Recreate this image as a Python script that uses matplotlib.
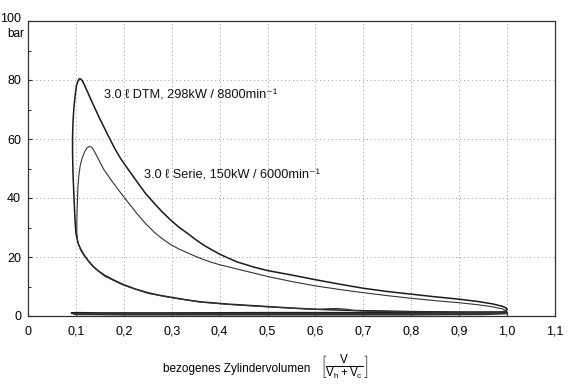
import numpy as np
import matplotlib
matplotlib.use("Agg")
import matplotlib.pyplot as plt
from matplotlib.ticker import MultipleLocator
from matplotlib.transforms import ScaledTranslation

plt.rcParams['font.family'] = ['Liberation Sans', 'DejaVu Sans']
plt.rcParams['mathtext.fontset'] = 'custom'
plt.rcParams['mathtext.rm'] = 'Liberation Sans'
plt.rcParams['mathtext.it'] = 'Liberation Sans'

# axis ticks
x_ticks = [0, 0.1, 0.2, 0.3, 0.4, 0.5, 0.6, 0.7, 0.8, 0.9, 1.0, 1.1]
x_labels = ["0", "0,1", "0,2", "0,3", "0,4", "0,5", "0,6", "0,7", "0,8", "0,9", "1,0", "1,1"]
y_ticks = [0, 20, 40, 60, 80, 100]
y_labels = ["0", "20", "40", "60", "80", "100"]

# shared-ish compression line (BDC -> near TDC)
comp_V = [1.0, 0.95, 0.9, 0.85, 0.8, 0.75, 0.7, 0.65, 0.6, 0.55, 0.5, 0.46, 0.42,
          0.39, 0.36, 0.33, 0.3, 0.275, 0.25, 0.225, 0.2, 0.18, 0.16, 0.145,
          0.135, 0.127, 0.12, 0.114, 0.109, 0.105, 0.102]
comp_p = [1.2, 1.25, 1.3, 1.4, 1.5, 1.65, 1.8, 2.0, 2.3, 2.7, 3.2, 3.6, 4.0,
          4.4, 4.8, 5.5, 6.3, 7.0, 7.9, 9.1, 10.6, 12.1, 13.8, 15.5,
          17.0, 18.5, 20.0, 21.5, 23.0, 24.5, 26.5]

# 3.0 l DTM - combustion and expansion
dtm_V = [0.1, 0.098, 0.096, 0.094, 0.093, 0.093, 0.094, 0.096, 0.099, 0.101,
         0.104, 0.107, 0.11, 0.113, 0.117, 0.122, 0.128, 0.138, 0.148, 0.158,
         0.17, 0.182, 0.194, 0.21, 0.229, 0.245, 0.263, 0.28, 0.298, 0.315,
         0.333, 0.35, 0.367, 0.385, 0.402, 0.42, 0.437, 0.455, 0.471, 0.5,
         0.55, 0.6, 0.65, 0.7, 0.75, 0.8, 0.85, 0.9, 0.94, 0.97, 0.99, 0.998,
         1.0, 0.998, 0.99]
dtm_p = [28, 33, 40, 48, 55, 61, 66, 71, 75.5, 78,
         79.6, 80.4, 80.4, 79.8, 78.6, 76.8, 74.6, 71, 67.5, 64.2,
         60.3, 56.5, 53.2, 49.5, 45.2, 41.6, 38.3, 35.3, 32.5, 30.1,
         28, 25.9, 24, 22.3, 20.8, 19.5, 18.3, 17.4, 16.6, 15.4,
         13.9, 12.3, 10.8, 9.4, 8.3, 7.4, 6.5, 5.7, 4.9, 4.1, 3.3, 2.7,
         2.2, 1.7, 1.4]
# gas exchange (exhaust + intake)
dtm_gx_V = [0.99, 0.9, 0.7, 0.5, 0.3, 0.15, 0.1, 0.091, 0.1, 0.2, 0.4, 0.6, 0.8, 0.95, 1.0]
dtm_gx_p = [1.3, 1.2, 1.1, 1.1, 1.0, 1.0, 1.1, 1.0, 0.7, 0.6, 0.6, 0.6, 0.6, 0.7, 1.1]

# 3.0 l Serie - compression (small lens near 0.64) and combustion/expansion
serie_comp_V = [1.0, 0.9, 0.8, 0.7, 0.68, 0.665, 0.645, 0.625, 0.61, 0.6, 0.5,
                0.42, 0.36, 0.3, 0.25, 0.2, 0.16, 0.135, 0.12, 0.11, 0.104]
serie_comp_p = [1.1, 1.2, 1.4, 1.7, 1.85, 2.3, 2.55, 2.45, 2.25, 2.2, 3.1,
                3.9, 4.7, 6.2, 7.7, 10.4, 13.5, 16.8, 19.8, 22.3, 25]
serie_V = [0.102, 0.102, 0.103, 0.104, 0.106, 0.109, 0.113, 0.118, 0.123,
           0.128, 0.133, 0.138, 0.145, 0.152, 0.158, 0.17, 0.182, 0.194, 0.21,
           0.229, 0.245, 0.263, 0.28, 0.298, 0.315, 0.333, 0.35, 0.367, 0.385,
           0.402, 0.42, 0.437, 0.47, 0.5, 0.55, 0.6, 0.65, 0.7, 0.75, 0.8, 0.85,
           0.9, 0.94, 0.97, 0.99, 1.0, 0.99, 0.95, 0.88]
serie_p = [28, 33, 38, 43, 47.5, 51, 53.5, 55.6, 57,
           57.5, 57.2, 56, 53.8, 51.6, 49.7, 46.9, 44.2, 41.6, 38.3,
           34.4, 31.4, 28.5, 26.2, 24.2, 22.7, 21.4, 20.2, 19.1, 18.1,
           17.3, 16.6, 15.9, 14.6, 13.4, 11.7, 10.2, 9.0, 7.9, 6.9, 6.0, 5.2,
           4.5, 3.8, 3.1, 2.4, 1.7, 1.3, 1.2, 1.2]
serie_gx_V = [1.0, 0.9, 0.7, 0.5, 0.3, 0.15, 0.095, 0.1, 0.2, 0.4, 0.6, 0.8, 0.95, 1.0]
serie_gx_p = [1.0, 0.9, 0.9, 0.9, 0.9, 0.9, 0.8, 0.5, 0.4, 0.4, 0.4, 0.4, 0.5, 0.8]

fig = plt.figure(figsize=(5.75, 3.88), dpi=100)
ax = fig.add_axes([28 / 575, 1 - 316 / 388, (555 - 28) / 575, (316 - 21) / 388])

dark = '#1a1a1a'
mid = '#333333'
kw = dict(solid_joinstyle='round', solid_capstyle='round')
ax.plot(comp_V + dtm_V, comp_p + dtm_p, color=dark, lw=1.1, **kw)
ax.plot(dtm_gx_V, dtm_gx_p, color=dark, lw=1.3, **kw)
ax.plot(serie_comp_V + serie_V, serie_comp_p + serie_p, color=mid, lw=0.8, **kw)
ax.plot(serie_gx_V, serie_gx_p, color=mid, lw=1.0, **kw)

ax.set_xlim(0, 1.1)
ax.set_ylim(0, 100)
ax.set_xticks(x_ticks)
ax.set_xticklabels(x_labels)
ax.set_yticks(y_ticks)
ax.set_yticklabels(y_labels)
ax.yaxis.set_minor_locator(MultipleLocator(10))
ax.tick_params(axis='both', which='major', direction='in', length=3, width=0.8,
               labelsize=9, color='#333333')
ax.tick_params(axis='x', pad=7)
ax.tick_params(axis='y', pad=5)
ax.tick_params(axis='both', which='minor', direction='in', length=2, width=0.6)

# lift the "100" label a little, "bar" sits under it
top_lbl = ax.get_yticklabels()[-1]
top_lbl.set_transform(top_lbl.get_transform() + ScaledTranslation(0, 3 / 100, fig.dpi_scale_trans))

for s in ax.spines.values():
    s.set_linewidth(0.9)
    s.set_color('#333333')

ax.grid(True, which='major', linestyle=(0, (1, 3)), color='#999999', linewidth=0.7)

ax.text(0.158, 74.6, "3.0 \u2113 DTM, 298kW / 8800min\u207b\u00b9", fontsize=9.2,
        va='center', ha='left', color='#111111')
ax.text(0.242, 47.5, "3.0 \u2113 Serie, 150kW / 6000min\u207b\u00b9", fontsize=9.2,
        va='center', ha='left', color='#111111')

fig.text(16 / 575, 1 - 34 / 388, "bar", fontsize=8.5, ha='center', va='center')
fig.text(163 / 575, 1 - 369 / 388, "bezogenes Zylindervolumen",
         fontsize=8.5, ha='left', va='center')
fig.text(320 / 575, 1 - 367 / 388, r"$\left[\frac{V}{V_h + V_c}\right]$",
         fontsize=12, ha='left', va='center')

fig.savefig("out.png", dpi=100, facecolor='white')
